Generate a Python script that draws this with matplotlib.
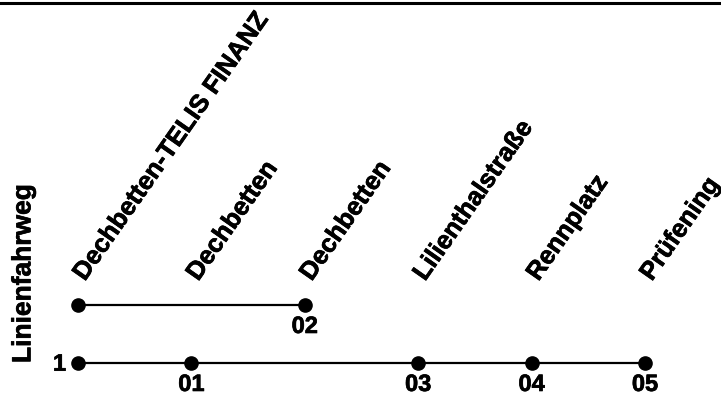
import matplotlib
matplotlib.use("Agg")
import matplotlib.pyplot as plt
import matplotlib.patheffects as pe
from matplotlib.lines import Line2D

# stop names along the route, left to right
stations = ["Dechbetten-TELIS FINANZ", "Dechbetten", "Dechbetten",
            "Lilienthalstraße", "Rennplatz", "Prüfening"]

# lower line (route 1)
lower_stops = [0, 1, 3, 4, 5]
lower_codes = ["", "01", "03", "04", "05"]
# upper line (branch)
upper_stops = [0, 2]
upper_codes = ["", "02"]

route_name = "1"
y_title = "Linienfahrweg"

plt.rcParams['font.family'] = ['Liberation Sans', 'DejaVu Sans']
plt.rcParams['font.weight'] = 'bold'

# slightly heavier strokes, the reference text looks a bit darker
heavy = [pe.withStroke(linewidth=0.5, foreground='black')]

fig = plt.figure(figsize=(7.21, 4.01), dpi=100)
ax = fig.add_axes([0, 0, 1, 1])
ax.set_xlim(-0.688, 5.670)
ax.set_ylim(-0.655, 6.259)
ax.axis('off')

# two route lines
for level, stops, codes in [(0, lower_stops, lower_codes), (1, upper_stops, upper_codes)]:
    ax.plot(stops, [level] * len(stops), color='black', lw=1.6,
            marker='o', markersize=9.5, markerfacecolor='black', markeredgecolor='black')
    for s, c in zip(stops, codes):
        if c:
            ax.text(s, level - 0.37, c, ha='center', va='center', fontsize=17,
                    fontweight='bold', path_effects=heavy)

ax.text(-0.105, -0.02, route_name, ha='right', va='center', fontsize=17,
        fontweight='bold', path_effects=heavy)

# station names, rotated
for i, name in enumerate(stations):
    ax.text(i + 0.06, 1.40, name, rotation=55, rotation_mode='anchor',
            ha='left', va='baseline', fontsize=18.4, fontweight='bold',
            clip_on=False, path_effects=heavy)

ax.text(-0.42, 0, y_title, rotation=90, rotation_mode='anchor',
        ha='left', va='baseline', fontsize=19, fontweight='bold', path_effects=heavy)

# frame line at the top
fig.add_artist(Line2D([0, 1], [1 - 3.3 / 401] * 2, transform=fig.transFigure,
                      color='black', lw=2.2))

fig.savefig("out.png", dpi=100)
